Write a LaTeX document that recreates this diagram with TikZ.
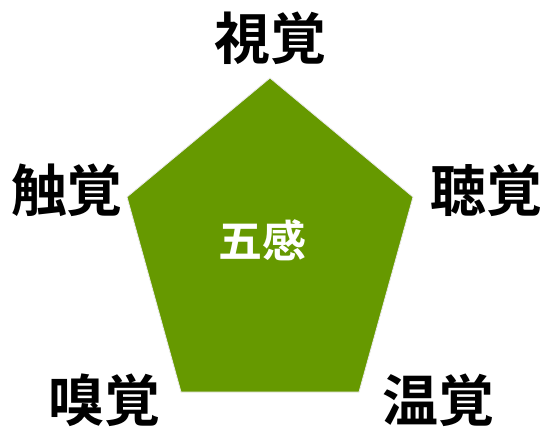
\documentclass[tikz,border=0pt]{standalone}
\usepackage{fontspec}
\newfontfamily\jpb{Noto Sans CJK JP Bold}
\definecolor{pgreen}{HTML}{669900}
\tikzset{
  lab/.style={font=\jpb\fontsize{56}{56}\selectfont, text=black, inner sep=0pt},
  ctr/.style={font=\jpb\fontsize{44}{44}\selectfont, text=white, inner sep=0pt},
}
\begin{document}
\begin{tikzpicture}[x=1pt,y=-1pt]
\useasboundingbox (0,0) rectangle (541,429);
\coordinate (t) at (270,78);
\coordinate (r) at (413,197);
\coordinate (br) at (359,392);
\coordinate (bl) at (181,392);
\coordinate (l) at (127,197);
\fill[pgreen, draw=white!92!black, line width=0.8pt, line join=miter] (t) -- (r) -- (br) -- (bl) -- (l) -- cycle;
\node[ctr] (c) at (262,240) {五感};
\node[lab] (n1) at (270,38) {視覚};
\node[lab] (n2) at (486,190) {聴覚};
\node[lab] (n3) at (438,400) {温覚};
\node[lab] (n4) at (104,400) {嗅覚};
\node[lab] (n5) at (67,190) {触覚};
\end{tikzpicture}
\end{document}
